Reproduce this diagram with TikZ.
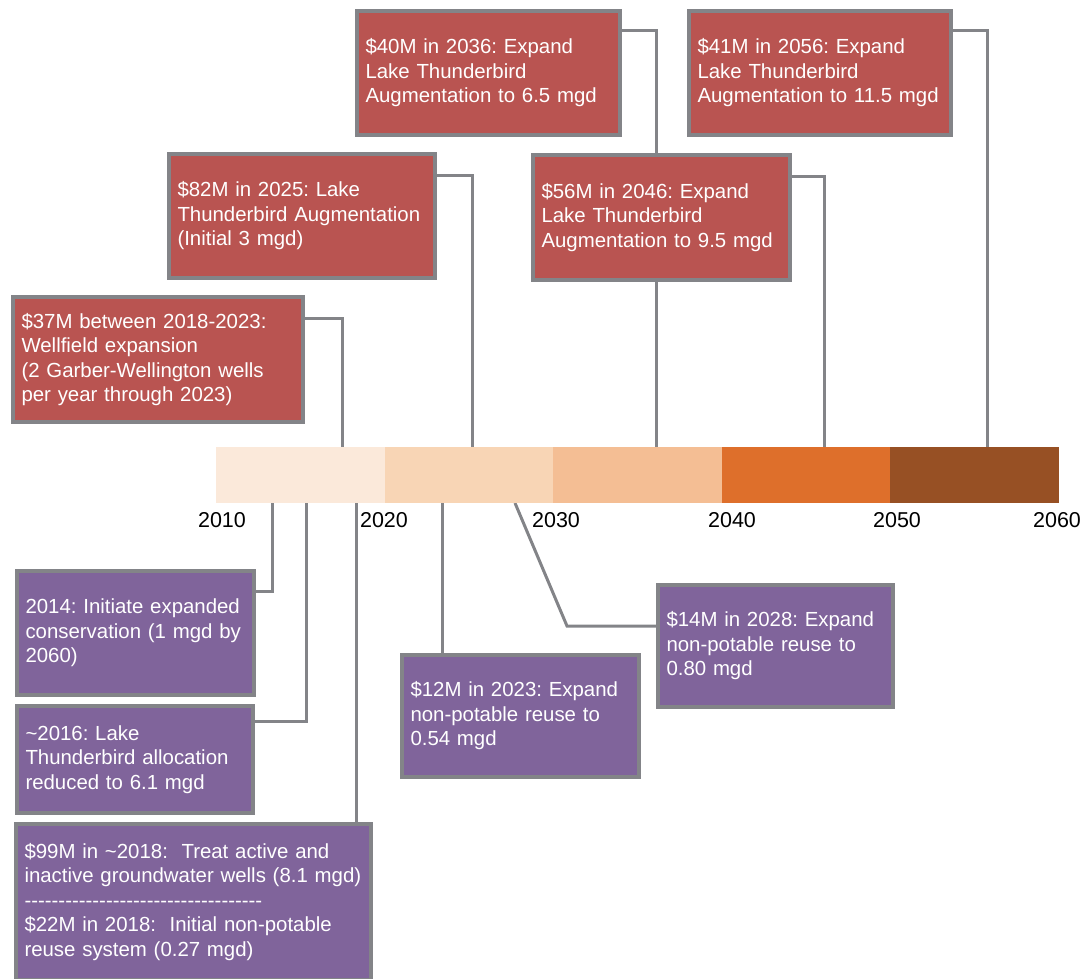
\documentclass[tikz,border=0pt]{standalone}
\usepackage{fontspec}
\setmainfont{Liberation Sans}
\usetikzlibrary{backgrounds}

\definecolor{boxred}{RGB}{185,84,81}
\definecolor{boxpurple}{RGB}{128,100,155}
\definecolor{linegray}{RGB}{131,132,136}
\definecolor{segA}{RGB}{251,233,218}
\definecolor{segB}{RGB}{248,213,181}
\definecolor{segC}{RGB}{244,190,148}
\definecolor{segD}{RGB}{222,111,43}
\definecolor{segE}{RGB}{151,80,36}

\newcommand{\hyphenrow}{\foreach \k in {1,...,35}{-}}
\frenchspacing

\begin{document}
\begin{tikzpicture}[x=1pt,y=-1pt,
        event/.style={draw=linegray,line width=4pt,text=white,align=left,
            inner xsep=8.5pt,inner ysep=0pt,
            font=\fontsize{20.4}{24.5}\selectfont},
        capex/.style={event,fill=boxred},
        action/.style={event,fill=boxpurple},
        link/.style={draw=linegray,line width=3pt},
        yearlabel/.style={font=\fontsize{21.5}{25}\selectfont,text=black,inner sep=0pt}]
    \useasboundingbox (0,0) rectangle (1086,979);
    \clip (0,0) rectangle (1086,979);

    % timeline bar, one block per decade
    \foreach \tone [count=\i from 0] in {segA,segB,segC,segD,segE}
        {\fill [\tone] ({216+168.6*\i},447) rectangle +(168.6,56);}
    \foreach \yr/\xpos in {2010/222,2020/384,2030/556,2040/732,2050/897,2060/1057}
        {\node [yearlabel] (yr\yr) at (\xpos,520) {\yr};}

    % marks on the bar  % top: 342 472 656 824 987  % bottom: 272 306 356 442 515
    \coordinate (t18) at (342,447);
    \coordinate (t25) at (472,447);
    \coordinate (t36) at (656,447);
    \coordinate (t46) at (824,447);
    \coordinate (t56) at (987,447);
    \coordinate (b14) at (272,503);
    \coordinate (b16) at (306,503);
    \coordinate (b18) at (356,503);
    \coordinate (b23) at (442,503);
    \coordinate (b28) at (515,503);
    \coordinate (bend28) at (567,626);

    % capital projects above the bar
    \node [capex,minimum width=290pt,minimum height=125pt,text width=273pt] (wellfield) at (158,359.5)
        {\$37M between 2018-2023:\\Wellfield expansion\\(2 Garber-Wellington wells\\per year through 2023)};
    \node [capex,minimum width=266pt,minimum height=124pt,text width=249pt] (aug25) at (302,216)
        {\$82M in 2025: Lake\\Thunderbird Augmentation\\(Initial 3 mgd)};
    \node [capex,minimum width=263pt,minimum height=124pt,text width=246pt] (aug36) at (488.5,73)
        {\$40M in 2036: Expand\\Lake Thunderbird\\Augmentation to 6.5 mgd};
    \node [capex,minimum width=257pt,minimum height=125pt,text width=240pt] (aug46) at (661.5,217.5)
        {\$56M in 2046: Expand\\Lake Thunderbird\\Augmentation to 9.5 mgd};
    \node [capex,minimum width=262pt,minimum height=124pt,text width=245pt] (aug56) at (820,73)
        {\$41M in 2056: Expand\\Lake Thunderbird\\Augmentation to 11.5 mgd};

    % actions below the bar
    \node [action,minimum width=237pt,minimum height=124pt,text width=220pt] (cons14) at (135.5,633)
        {2014: Initiate expanded\\conservation (1 mgd by\\2060)};
    \node [action,minimum width=236pt,minimum height=107pt,text width=219pt] (alloc16) at (135,759.5)
        {\textasciitilde2016: Lake\\Thunderbird allocation\\reduced to 6.1 mgd};
    \node [action,minimum width=353pt,minimum height=156pt,text width=338pt] (treat18) at (193.5,902)
        {\$99M in \textasciitilde2018:\ \ Treat active and\\inactive groundwater wells (8.1 mgd)\\\hyphenrow\\\$22M in 2018:\ \ Initial non-potable\\reuse system (0.27 mgd)};
    \node [action,minimum width=237pt,minimum height=122pt,text width=220pt] (reuse23) at (520.5,716)
        {\$12M in 2023: Expand\\non-potable reuse to\\0.54 mgd};
    \node [action,minimum width=235pt,minimum height=122pt,text width=218pt] (reuse28) at (775.5,646)
        {\$14M in 2028: Expand\\non-potable reuse to\\0.80 mgd};

    \begin{pgfonlayer}{background}
        \draw [link] ([yshift=-23pt]wellfield.north east) -| (t18);
        \draw [link] ([yshift=-23pt]aug25.north east) -| (t25);
        \draw [link] ([yshift=-22pt]aug36.north east) -| (t36);
        \draw [link] ([yshift=-23pt]aug46.north east) -| (t46);
        \draw [link] ([yshift=-22pt]aug56.north east) -| (t56);
        \draw [link] ([yshift=-22pt]cons14.north east) -| (b14);
        \draw [link] ([yshift=-17pt]alloc16.north east) -| (b16);
        \draw [link] (treat18.north -| b18) -- (b18);
        \draw [link] (reuse23.north -| b23) -- (b23);
        \draw [link] ([yshift=20pt]reuse28.west) -- (bend28) -- (b28);
    \end{pgfonlayer}
\end{tikzpicture}
\end{document}
